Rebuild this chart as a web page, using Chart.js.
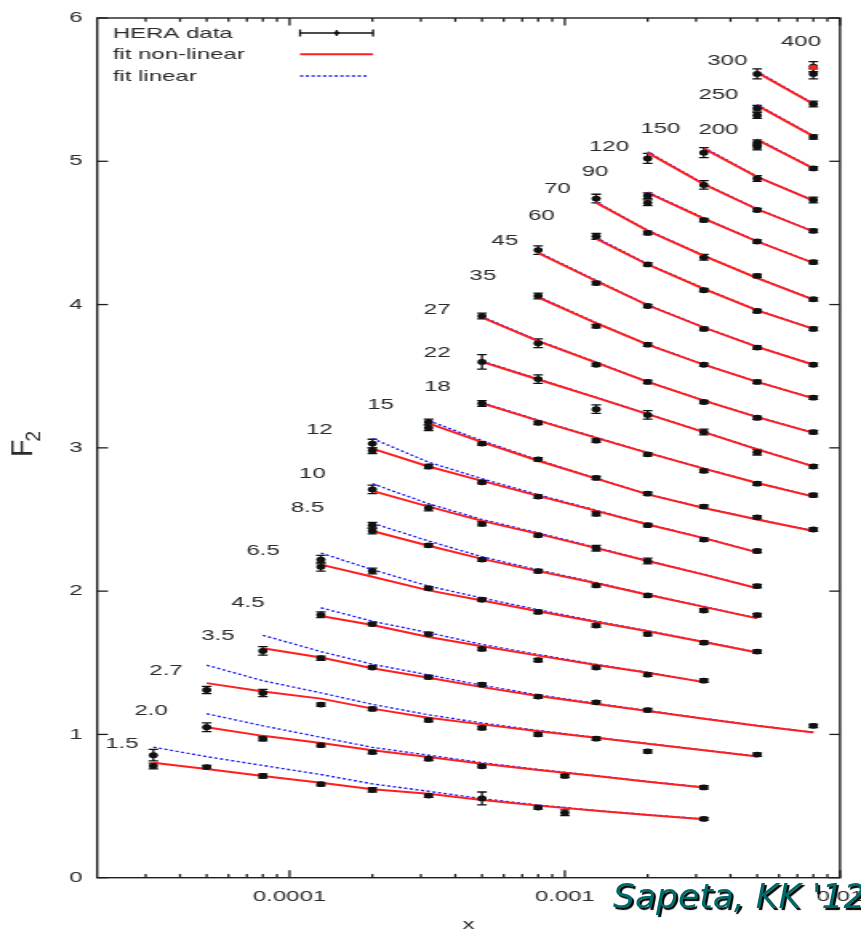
<!DOCTYPE html>
<html>
<head>
<meta charset="utf-8">
<title>F2 versus x at fixed Q2</title>
<script src="https://cdn.jsdelivr.net/npm/chart.js@4.4.1/dist/chart.umd.min.js"></script>
<style>
  html, body { margin: 0; padding: 0; background: #fff; overflow: hidden; }
  #stage { position: relative; width: 861px; height: 933px; overflow: hidden; }
  /* the plot is laid out narrow and widened horizontally, as in the original figure */
  #plotBox { position: absolute; left: 0; top: 0; width: 538px; height: 933px;
             transform: scaleX(1.60037); transform-origin: 0 0; }
  #credit { position: absolute; left: 613px; top: 876px; line-height: 1;
            font: italic 34.5px 'DejaVu Sans', sans-serif; color: #006a6a;
            text-shadow: 2px 2px 1px #000; white-space: nowrap; }
</style>
</head>
<body>
<div id="stage">
  <div id="plotBox"><canvas id="f2chart" width="538" height="933"></canvas></div>
  <div id="credit">Sapeta, KK '12</div>
</div>
<script>
// Q^2 bins (GeV^2), one curve per bin
const Q2_LABELS = ['1.5','2.0','2.7','3.5','4.5','6.5','8.5','10','12','15','18','22','27',
                   '35','45','60','70','90','120','150','200','250','300','400'];

// HERA measurements: x, F2 and error for every Q^2 bin
const HERA_X = [
  [3.2e-5,3.2e-5,5e-5,8e-5,1.3e-4,2e-4,3.2e-4,5e-4,8e-4,1e-3,3.2e-3],
  [5e-5,8e-5,1.3e-4,2e-4,3.2e-4,5e-4,1e-3,3.2e-3],
  [5e-5,8e-5,1.3e-4,2e-4,3.2e-4,5e-4,8e-4,1.3e-3,2e-3,5e-3],
  [8e-5,1.3e-4,2e-4,3.2e-4,5e-4,8e-4,1.3e-3,2e-3,8e-3],
  [1.3e-4,2e-4,3.2e-4,5e-4,8e-4,1.3e-3,2e-3,3.2e-3],
  [1.3e-4,1.3e-4,2e-4,3.2e-4,5e-4,8e-4,1.3e-3,2e-3,3.2e-3,5e-3],
  [2e-4,2e-4,3.2e-4,5e-4,8e-4,1.3e-3,2e-3,3.2e-3,5e-3],
  [2e-4,3.2e-4,5e-4,8e-4,1.3e-3,2e-3,5e-3],
  [2e-4,2e-4,3.2e-4,5e-4,8e-4,1.3e-3,2e-3,3.2e-3,5e-3],
  [3.2e-4,3.2e-4,5e-4,8e-4,1.3e-3,2e-3,3.2e-3,5e-3,8e-3],
  [5e-4,8e-4,1.3e-3,2e-3,3.2e-3,5e-3,8e-3],
  [5e-4,8e-4,1.3e-3,2e-3,3.2e-3,5e-3,8e-3],
  [5e-4,8e-4,1.3e-3,2e-3,3.2e-3,5e-3,8e-3],
  [8e-4,1.3e-3,2e-3,3.2e-3,5e-3,8e-3],
  [8e-4,1.3e-3,2e-3,3.2e-3,5e-3,8e-3],
  [1.3e-3,2e-3,3.2e-3,5e-3,8e-3],
  [1.3e-3,2e-3,3.2e-3,5e-3,8e-3],
  [2e-3,2e-3,3.2e-3,5e-3,8e-3],
  [2e-3,3.2e-3,5e-3,8e-3],
  [3.2e-3,5e-3,8e-3],
  [5e-3,5e-3,8e-3],
  [5e-3,5e-3,8e-3],
  [5e-3,8e-3],
  [8e-3,8e-3]
];
const HERA_F2 = [
  [0.855,0.78,0.772,0.71,0.653,0.613,0.573,0.553,0.49,0.453,0.41],
  [1.05,0.97,0.925,0.877,0.83,0.778,0.71,0.63],
  [1.31,1.289,1.208,1.178,1.10,1.045,1.0,0.97,0.882,0.859],
  [1.583,1.532,1.467,1.40,1.347,1.264,1.224,1.17,1.06],
  [1.835,1.77,1.70,1.597,1.519,1.467,1.417,1.375],
  [2.22,2.17,2.14,2.02,1.94,1.855,1.76,1.70,1.64,1.578],
  [2.46,2.42,2.32,2.22,2.14,2.04,1.97,1.865,1.833],
  [2.71,2.58,2.47,2.39,2.30,2.21,2.035],
  [3.03,2.98,2.87,2.76,2.66,2.54,2.46,2.36,2.28],
  [3.18,3.14,3.03,2.92,2.79,2.68,2.59,2.515,2.43],
  [3.31,3.175,3.05,2.955,2.84,2.75,2.67],
  [3.60,3.48,3.27,3.23,3.11,2.97,2.87],
  [3.92,3.73,3.58,3.46,3.32,3.21,3.11],
  [4.06,3.85,3.72,3.58,3.46,3.35],
  [4.38,4.15,3.99,3.83,3.70,3.58],
  [4.476,4.28,4.10,3.955,3.83],
  [4.74,4.50,4.33,4.20,4.037],
  [4.76,4.71,4.59,4.44,4.296],
  [5.02,4.835,4.66,4.515],
  [5.06,4.88,4.73],
  [5.13,5.10,4.95],
  [5.37,5.32,5.17],
  [5.61,5.40],
  [5.66,5.61]
];
const HERA_ERR = [
  [0.04,0.02,0.012,0.015,0.012,0.015,0.012,0.045,0.012,0.02,0.01],
  [0.03,0.015,0.012,0.012,0.012,0.012,0.012,0.012],
  [0.025,0.025,0.012,0.012,0.012,0.012,0.012,0.012,0.012,0.012],
  [0.03,0.015,0.012,0.012,0.012,0.012,0.012,0.012,0.012],
  [0.02,0.012,0.012,0.012,0.012,0.012,0.012,0.012],
  [0.03,0.03,0.02,0.012,0.012,0.012,0.012,0.012,0.012,0.012],
  [0.02,0.02,0.012,0.012,0.012,0.012,0.012,0.012,0.012],
  [0.03,0.02,0.015,0.012,0.02,0.02,0.012],
  [0.03,0.02,0.015,0.012,0.012,0.015,0.012,0.012,0.012],
  [0.02,0.02,0.012,0.012,0.012,0.012,0.012,0.012,0.012],
  [0.02,0.012,0.012,0.012,0.012,0.012,0.012],
  [0.05,0.03,0.03,0.03,0.02,0.02,0.012],
  [0.02,0.03,0.012,0.012,0.012,0.012,0.012],
  [0.02,0.012,0.012,0.012,0.012,0.012],
  [0.03,0.012,0.012,0.012,0.012,0.012],
  [0.02,0.012,0.012,0.012,0.012],
  [0.03,0.012,0.02,0.012,0.012],
  [0.02,0.02,0.012,0.012,0.012],
  [0.035,0.03,0.012,0.012],
  [0.035,0.02,0.02],
  [0.02,0.02,0.012],
  [0.02,0.02,0.015],
  [0.035,0.02],
  [0.035,0.035]
];

// fit curves: x nodes, non-linear fit and linear fit
const FIT_X = [
  [3.2e-5,5e-5,8e-5,1.3e-4,2e-4,3.2e-4,5e-4,8e-4,1.3e-3,2e-3,3.2e-3],
  [5e-5,8e-5,1.3e-4,2e-4,3.2e-4,5e-4,8e-4,1.3e-3,2e-3,3.2e-3],
  [5e-5,8e-5,1.3e-4,2e-4,3.2e-4,5e-4,8e-4,1.3e-3,2e-3,3.2e-3,5e-3],
  [8e-5,1.3e-4,2e-4,3.2e-4,5e-4,8e-4,1.3e-3,2e-3,3.2e-3,5e-3,8e-3],
  [1.3e-4,2e-4,3.2e-4,5e-4,8e-4,1.3e-3,2e-3,3.2e-3],
  [1.3e-4,2e-4,3.2e-4,5e-4,8e-4,1.3e-3,2e-3,3.2e-3,5e-3],
  [2e-4,3.2e-4,5e-4,8e-4,1.3e-3,2e-3,3.2e-3,5e-3],
  [2e-4,3.2e-4,5e-4,8e-4,1.3e-3,2e-3,3.2e-3,5e-3],
  [2e-4,3.2e-4,5e-4,8e-4,1.3e-3,2e-3,3.2e-3,5e-3],
  [3.2e-4,5e-4,8e-4,1.3e-3,2e-3,3.2e-3,5e-3,8e-3],
  [5e-4,8e-4,1.3e-3,2e-3,3.2e-3,5e-3,8e-3],
  [5e-4,8e-4,1.3e-3,2e-3,3.2e-3,5e-3,8e-3],
  [5e-4,8e-4,1.3e-3,2e-3,3.2e-3,5e-3,8e-3],
  [8e-4,1.3e-3,2e-3,3.2e-3,5e-3,8e-3],
  [8e-4,1.3e-3,2e-3,3.2e-3,5e-3,8e-3],
  [1.3e-3,2e-3,3.2e-3,5e-3,8e-3],
  [1.3e-3,2e-3,3.2e-3,5e-3,8e-3],
  [2e-3,3.2e-3,5e-3,8e-3],
  [2e-3,3.2e-3,5e-3,8e-3],
  [3.2e-3,5e-3,8e-3],
  [5e-3,8e-3],
  [5e-3,8e-3],
  [5e-3,8e-3],
  [8e-3]
];
const FIT_NONLINEAR = [
  [0.803,0.758,0.71,0.662,0.618,0.586,0.543,0.503,0.468,0.438,0.408],
  [1.05,0.99,0.94,0.89,0.842,0.795,0.752,0.71,0.67,0.63],
  [1.358,1.30,1.25,1.18,1.116,1.07,1.022,0.976,0.935,0.889,0.846],
  [1.602,1.537,1.462,1.395,1.33,1.268,1.212,1.163,1.11,1.06,1.013],
  [1.826,1.764,1.68,1.615,1.55,1.485,1.43,1.365],
  [2.185,2.10,2.005,1.935,1.86,1.785,1.72,1.645,1.572],
  [2.42,2.317,2.225,2.14,2.055,1.975,1.89,1.81],
  [2.70,2.59,2.49,2.40,2.30,2.21,2.115,2.02],
  [2.995,2.87,2.77,2.665,2.56,2.465,2.37,2.27],
  [3.17,3.04,2.91,2.785,2.675,2.58,2.50,2.42],
  [3.31,3.19,3.07,2.965,2.855,2.755,2.66],
  [3.60,3.477,3.35,3.235,3.11,2.99,2.87],
  [3.91,3.745,3.595,3.46,3.33,3.215,3.105],
  [4.05,3.87,3.72,3.58,3.46,3.345],
  [4.36,4.165,3.995,3.84,3.705,3.58],
  [4.46,4.28,4.11,3.96,3.83],
  [4.71,4.515,4.34,4.185,4.035],
  [4.78,4.60,4.44,4.29],
  [5.06,4.84,4.665,4.51],
  [5.09,4.89,4.725],
  [5.15,4.95],
  [5.39,5.175],
  [5.62,5.40],
  [5.655]
];
const FIT_LINEAR = [
  [0.911,0.845,0.783,0.72,0.655,0.603,0.552,0.507,0.47,0.44,0.41],
  [1.144,1.06,0.98,0.91,0.855,0.803,0.756,0.712,0.672,0.632],
  [1.483,1.375,1.29,1.21,1.137,1.08,1.028,0.979,0.937,0.891,0.848],
  [1.692,1.578,1.49,1.415,1.343,1.276,1.217,1.166,1.112,1.062,1.015],
  [1.884,1.79,1.71,1.628,1.558,1.489,1.433,1.367],
  [2.266,2.15,2.035,1.952,1.87,1.79,1.724,1.648,1.574],
  [2.474,2.35,2.24,2.148,2.06,1.978,1.893,1.812],
  [2.75,2.61,2.50,2.407,2.305,2.213,2.117,2.022],
  [3.065,2.90,2.785,2.673,2.565,2.468,2.372,2.272],
  [3.19,3.05,2.915,2.788,2.677,2.582,2.502,2.422],
  [3.316,3.194,3.073,2.967,2.857,2.757,2.662],
  [3.606,3.481,3.353,3.237,3.112,2.992,2.872],
  [3.916,3.749,3.598,3.462,3.332,3.217,3.107],
  [4.056,3.874,3.723,3.582,3.462,3.347],
  [4.366,4.169,3.998,3.842,3.707,3.582],
  [4.466,4.284,4.113,3.962,3.832],
  [4.716,4.519,4.343,4.187,4.037],
  [4.786,4.604,4.443,4.292],
  [5.066,4.844,4.668,4.512],
  [5.096,4.894,4.728],
  [5.156,4.953],
  [5.396,5.178],
  [5.626,5.403],
  [5.655]
];

// y axis ticks and x range
const Y_TICKS = [0, 1, 2, 3, 4, 5, 6];
const X_MIN = 2e-5, X_MAX = 1e-2;

// ---- styling / placement (canvas units before the horizontal widening) ----
const FONT = "'Liberation Sans', Arial, Helvetica, sans-serif";
const TEXT_COLOR = '#2a2a2a';
const RED = '#ff1f1f';
const BLUE = '#1a1aff';
// where each Q^2 tag sits relative to the first measurement of its curve
const TAG_OFFSETS = [[-19.6,-10.9],[-34.8,-16.8],[-25.4,-18.7],[-28.1,-15],[-45.6,-12.1],
  [-36.2,-9],[-40.6,-17],[-37.5,-16],[-33.1,-13.4],[-30,-17.4],[-27.9,-16.4],[-28,-8.9],
  [-28,-6.2],[-34.6,-20],[-20.8,-9],[-34.2,-20.2],[-24.2,-9.7],[-32.9,-24.3],[-24.2,-11.8],
  [-27.1,-23.7],[-24.2,-12.5],[-24.2,-13],[-18.6,-12.9],[-7.7,-25.1]];

Chart.defaults.font.family = FONT;
Chart.defaults.color = TEXT_COLOR;

const datasets = [];
Q2_LABELS.forEach((q, i) => {
  datasets.push({
    label: 'HERA data, Q2 = ' + q,
    kind: 'hera', seriesIndex: i,
    data: HERA_X[i].map((x, k) => ({ x, y: HERA_F2[i][k] })),
    showLine: false,
    pointRadius: 2.9, pointHoverRadius: 2.9,
    pointBackgroundColor: '#111', pointBorderWidth: 0,
    order: 0
  });
  const single = FIT_X[i].length === 1;
  datasets.push({
    label: 'fit non-linear, Q2 = ' + q,
    kind: 'fitNL', seriesIndex: i,
    data: FIT_X[i].map((x, k) => ({ x, y: FIT_NONLINEAR[i][k] })),
    showLine: true, borderColor: RED, borderWidth: 2,
    pointRadius: single ? 2.6 : 0, pointBackgroundColor: RED, pointBorderWidth: 0,
    order: single ? -1 : 1
  });
  datasets.push({
    label: 'fit linear, Q2 = ' + q,
    kind: 'fitL', seriesIndex: i,
    data: FIT_X[i].map((x, k) => ({ x, y: FIT_LINEAR[i][k] })),
    showLine: true, borderColor: BLUE, borderWidth: 1.4, borderDash: [2, 1.6],
    pointRadius: 0,
    order: 2
  });
});

function line(ctx, x1, y1, x2, y2) {
  ctx.beginPath(); ctx.moveTo(x1, y1); ctx.lineTo(x2, y2); ctx.stroke();
}

// vertical error bars with caps, under the curves
const errorBars = {
  id: 'errorBars',
  beforeDatasetsDraw(chart) {
    const { ctx, scales: { x, y }, chartArea } = chart;
    ctx.save();
    ctx.beginPath();
    ctx.rect(chartArea.left, chartArea.top, chartArea.right - chartArea.left, chartArea.bottom - chartArea.top);
    ctx.clip();
    ctx.strokeStyle = '#111';
    ctx.lineWidth = 1.3;
    HERA_X.forEach((xs, i) => {
      xs.forEach((xv, k) => {
        const px = x.getPixelForValue(xv);
        const lo = y.getPixelForValue(HERA_F2[i][k] - HERA_ERR[i][k]);
        const hi = y.getPixelForValue(HERA_F2[i][k] + HERA_ERR[i][k]);
        line(ctx, px, lo, px, hi);
        line(ctx, px - 3, lo, px + 3, lo);
        line(ctx, px - 3, hi, px + 3, hi);
      });
    });
    ctx.restore();
  }
};

// border box with inward ticks on all four sides
const frame = {
  id: 'frame',
  afterDraw(chart) {
    const { ctx, scales: { x, y }, chartArea: a } = chart;
    ctx.save();
    ctx.strokeStyle = '#1e1e1e';
    ctx.lineWidth = 1.4;
    ctx.strokeRect(a.left, a.top, a.right - a.left, a.bottom - a.top);
    ctx.lineWidth = 1.3;
    Y_TICKS.forEach(v => {
      const py = y.getPixelForValue(v);
      line(ctx, a.left, py, a.left + 6.7, py);
      line(ctx, a.right, py, a.right - 6.7, py);
    });
    for (let e = -5; e <= -2; e++) {
      for (let m = 1; m <= 9; m++) {
        const v = m * Math.pow(10, e);
        if (v <= X_MIN * 1.001 || v > X_MAX * 1.001) continue;
        const px = x.getPixelForValue(v);
        const len = m === 1 ? 7.5 : 3.8;
        line(ctx, px, a.bottom, px, a.bottom - len);
        line(ctx, px, a.top, px, a.top + len);
      }
    }
    ctx.restore();
  }
};

// Q^2 tags, key box and the rotated F2 title
const annotations = {
  id: 'annotations',
  afterDraw(chart) {
    const { ctx, scales: { x, y } } = chart;
    ctx.save();
    ctx.fillStyle = TEXT_COLOR;
    ctx.font = '15px ' + FONT;
    ctx.textAlign = 'center';
    ctx.textBaseline = 'middle';
    Q2_LABELS.forEach((q, i) => {
      const px = x.getPixelForValue(HERA_X[i][0]) + TAG_OFFSETS[i][0];
      const py = y.getPixelForValue(HERA_F2[i][0]) + TAG_OFFSETS[i][1];
      ctx.fillText(q, px, py);
    });

    // key
    ctx.textAlign = 'left';
    ctx.fillText('HERA data', 70.4, 33.5);
    ctx.fillText('fit non-linear', 70.4, 55.2);
    ctx.fillText('fit linear', 70.4, 76.8);
    const k0 = 187.5, k1 = 233.1, kc = 210.4;
    ctx.strokeStyle = '#111';
    ctx.lineWidth = 1.3;
    line(ctx, k0, 33, k1, 33);
    line(ctx, k0, 29.5, k0, 36.5);
    line(ctx, k1, 29.5, k1, 36.5);
    line(ctx, kc, 30, kc, 36);
    ctx.fillStyle = '#111';
    ctx.beginPath(); ctx.arc(kc, 33, 1.8, 0, Math.PI * 2); ctx.fill();
    ctx.strokeStyle = RED; ctx.lineWidth = 2;
    line(ctx, k0, 54.3, k1, 54.3);
    ctx.strokeStyle = BLUE; ctx.lineWidth = 1.4; ctx.setLineDash([2, 1.6]);
    line(ctx, k0, 76, 230, 76);
    ctx.setLineDash([]);

    // y title: F with subscript 2, rotated
    ctx.fillStyle = TEXT_COLOR;
    ctx.translate(20.4, 457);
    ctx.rotate(-Math.PI / 2);
    ctx.scale(1.5, 1);
    ctx.textAlign = 'left';
    ctx.textBaseline = 'alphabetic';
    ctx.font = '19px ' + FONT;
    ctx.fillText('F', 0, 0);
    ctx.font = '13px ' + FONT;
    ctx.fillText('2', 10.2, 5);
    ctx.restore();
  }
};

function decadeLabel(v) {
  const e = Math.log10(v);
  const r = Math.round(e);
  if (Math.abs(e - r) > 1e-6) return '';
  return Math.pow(10, r).toFixed(-r);
}

new Chart(document.getElementById('f2chart'), {
  type: 'scatter',
  data: { datasets },
  options: {
    responsive: false,
    devicePixelRatio: 1,
    animation: false,
    events: [],
    layout: { padding: { left: 0, right: 13.1, top: 13.5, bottom: 0 } },
    plugins: { legend: { display: false }, tooltip: { enabled: false } },
    scales: {
      x: {
        type: 'logarithmic',
        min: X_MIN, max: X_MAX,
        grid: { display: false, drawTicks: false },
        border: { display: false },
        ticks: {
          autoSkip: false, maxRotation: 0, minRotation: 0, padding: 10,
          color: TEXT_COLOR, font: { size: 15 },
          callback: (v) => decadeLabel(v)
        },
        title: { display: true, text: 'x', color: TEXT_COLOR, font: { size: 15, lineHeight: 1 }, padding: { top: 0, bottom: 1 } },
        afterFit(s) { s.height = 55.3; s.paddingLeft = 0; s.paddingRight = 0; }
      },
      y: {
        type: 'linear',
        min: 0, max: 6,
        grid: { display: false, drawTicks: false },
        border: { display: false },
        ticks: { stepSize: 1, padding: 9, color: TEXT_COLOR, font: { size: 15 } },
        afterFit(s) { s.width = 60.7; }
      }
    }
  },
  plugins: [errorBars, frame, annotations]
});
</script>
</body>
</html>
